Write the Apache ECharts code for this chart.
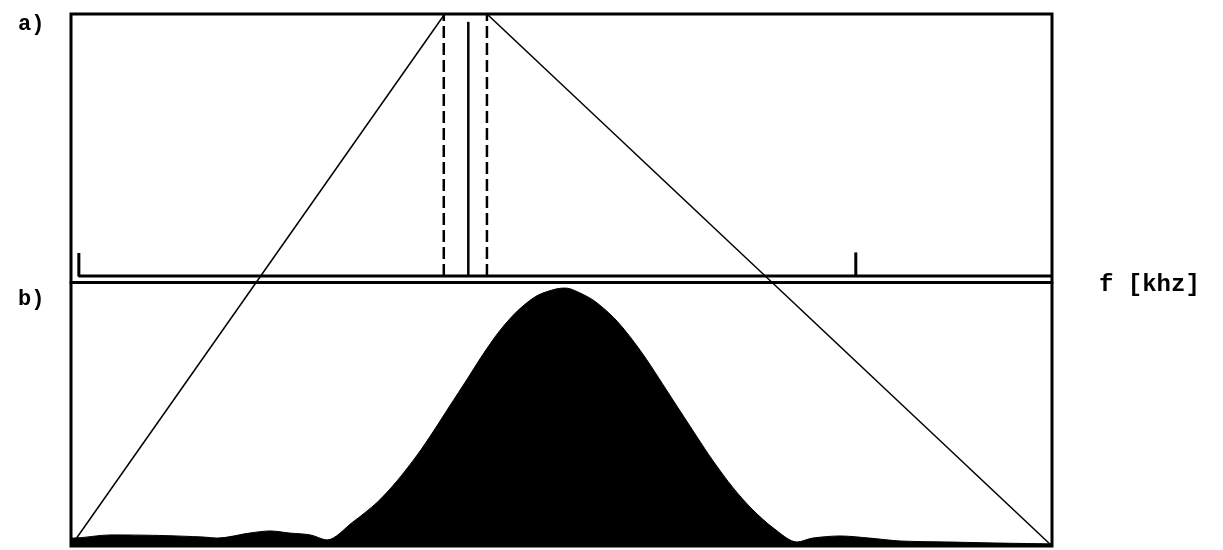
<!DOCTYPE html>
<html>
<head>
<meta charset="utf-8">
<script src="https://cdn.jsdelivr.net/npm/echarts@6/dist/echarts.min.js"></script>
<style>
  html, body { margin: 0; padding: 0; background: #ffffff; }
  #chart { width: 1223px; height: 550px; }
</style>
</head>
<body>
<div id="chart"></div>
<script>
// Frequency runs 0..100 (kHz) across the frame; levels are relative (0..1).
const panelLabels = ['a)', 'b)'];
const freqAxisName = 'f [khz]';

// Panel a): filter edges (dashed), carrier line (solid), scale ticks
const dashedFreqs = [38.0, 42.4];
const carrierFreq = 40.5;
const carrierLevel = 0.97;
const scaleTickFreqs = [0.8, 80.0];
const scaleTickLevels = [0.088, 0.09];

// Envelope lines from the filter edges down to the frame corners
const envelopeApexFreqs = [38.1, 42.4];
const envelopeFootFreqs = [0, 100];

// Panel b): spectrum (main lobe with side lobes)
const spectrumFreq = [
  0, 0.2, 4.0, 9.0, 13.5, 14.9, 18.2, 20.3, 22.3, 24.4, 26.1,
  28.7, 31.2, 33.2, 35.3, 36.9, 38.6, 40.4, 42.0, 43.7, 45.5, 47.5,
  49.5, 50.4, 51.2, 53.2, 55.3, 57.0, 58.7, 60.3, 62.1, 63.8, 65.4,
  67.5, 69.5, 71.6, 74.0, 75.6, 78.4, 81.4, 84.5, 89.6, 94.7, 100
];
const spectrumLevel = [
  0.030, 0.030, 0.042, 0.040, 0.034, 0.030, 0.049, 0.057, 0.049, 0.042, 0.023,
  0.090, 0.165, 0.245, 0.345, 0.432, 0.530, 0.633, 0.726, 0.815, 0.890, 0.948,
  0.974, 0.977, 0.970, 0.932, 0.866, 0.792, 0.705, 0.614, 0.511, 0.414, 0.325,
  0.220, 0.137, 0.068, 0.015, 0.030, 0.038, 0.030, 0.019, 0.015, 0.011, 0.008
];

const INK = '#000000';
const FONT = '"Liberation Mono", "DejaVu Sans Mono", monospace';

const chart = echarts.init(document.getElementById('chart'), null, { renderer: 'canvas' });

const frame = { left: 71, width: 981 };
const xBase = { type: 'value', min: 0, max: 100, show: false };
const yBase = { type: 'value', min: 0, max: 1, show: false };

const pts = (xs, ys) => xs.map((x, i) => [x, ys[i]]);

const series = [];

// a) baseline with its left scale tick, plus the right tick
series.push({
  type: 'line', xAxisIndex: 0, yAxisIndex: 0, clip: false, symbol: 'none', silent: true,
  data: [[scaleTickFreqs[0], scaleTickLevels[0]], [scaleTickFreqs[0], 0], [100, 0]],
  lineStyle: { color: INK, width: 3 }
});
series.push({
  type: 'line', xAxisIndex: 0, yAxisIndex: 0, clip: false, symbol: 'none', silent: true,
  data: [[scaleTickFreqs[1], 0], [scaleTickFreqs[1], scaleTickLevels[1]]],
  lineStyle: { color: INK, width: 3 }
});
// a) dashed filter edges
dashedFreqs.forEach(f => series.push({
  type: 'line', xAxisIndex: 0, yAxisIndex: 0, clip: false, symbol: 'none', silent: true,
  data: [[f, 0], [f, 1]],
  lineStyle: { color: INK, width: 2.5, type: [12, 5] }
}));
// a) carrier
series.push({
  type: 'line', xAxisIndex: 0, yAxisIndex: 0, clip: false, symbol: 'none', silent: true,
  data: [[carrierFreq, 0], [carrierFreq, carrierLevel]],
  lineStyle: { color: INK, width: 2.5 }
});

// b) spectrum, filled solid
series.push({
  type: 'line', xAxisIndex: 1, yAxisIndex: 1, symbol: 'none', silent: true, smooth: 0.3,
  data: pts(spectrumFreq, spectrumLevel),
  lineStyle: { color: INK, width: 1 },
  areaStyle: { color: INK, opacity: 1 }
});

// envelope lines across both panels
envelopeApexFreqs.forEach((f, i) => series.push({
  type: 'line', xAxisIndex: 2, yAxisIndex: 2, clip: false, symbol: 'none', silent: true,
  data: [[f, 1], [envelopeFootFreqs[i], 0]],
  lineStyle: { color: INK, width: 1.5 },
  z: 5
}));

const labelStyle = (size) => ({ fontFamily: FONT, fontSize: size, fontWeight: 'bold', color: INK });

chart.setOption({
  animation: false,
  backgroundColor: '#ffffff',
  title: [
    { text: panelLabels[0], left: 18, top: 13, padding: 0, textStyle: labelStyle(22) },
    { text: panelLabels[1], left: 18, top: 288, padding: 0, textStyle: labelStyle(22) },
    { text: freqAxisName, left: 1099, top: 273, padding: 0, textStyle: labelStyle(24) }
  ],
  grid: [
    { left: frame.left, width: frame.width, top: 14, height: 262 },
    { left: frame.left, width: frame.width, top: 282, height: 264 },
    { left: frame.left, width: frame.width, top: 14, height: 532,
      show: true, backgroundColor: 'transparent', borderColor: INK, borderWidth: 3 }
  ],
  xAxis: [
    Object.assign({ gridIndex: 0 }, xBase),
    { gridIndex: 1, type: 'value', min: 0, max: 100, position: 'top',
      axisLine: { show: true, onZero: false, lineStyle: { color: INK, width: 3 } },
      axisTick: { show: false }, axisLabel: { show: false }, splitLine: { show: false } },
    Object.assign({ gridIndex: 2 }, xBase)
  ],
  yAxis: [
    Object.assign({ gridIndex: 0 }, yBase),
    Object.assign({ gridIndex: 1 }, yBase),
    Object.assign({ gridIndex: 2 }, yBase)
  ],
  series: series
});
</script>
</body>
</html>
